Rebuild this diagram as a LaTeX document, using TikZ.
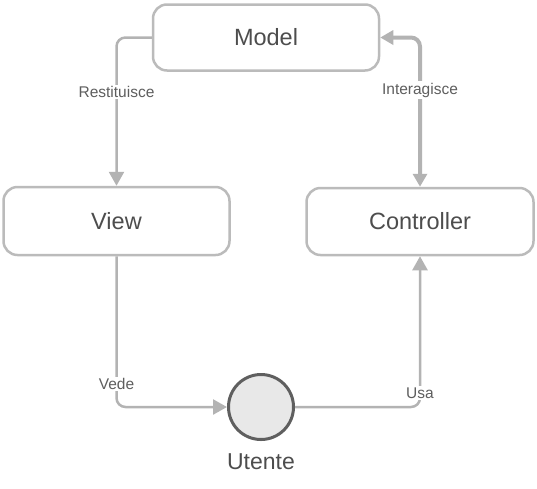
\documentclass[tikz,border=0pt]{standalone}
\usepackage{fontspec}
\setmainfont{Liberation Sans}
\usetikzlibrary{arrows.meta}
\definecolor{linegray}{HTML}{B3B3B3}
\definecolor{boxgray}{HTML}{BBBBBB}
\definecolor{txtgray}{HTML}{4D4D4D}
\definecolor{lbltxt}{HTML}{5E5E5E}
\definecolor{circfill}{HTML}{E8E8E8}
\definecolor{circline}{HTML}{5F5F5F}
\tikzset{
  boxnode/.style={draw=boxgray, line width=2.5pt, rounded corners=14pt, fill=white,
    minimum width=226pt, minimum height=66pt, text=txtgray, inner sep=0pt,
    font=\fontsize{23.5}{28}\selectfont},
  conn/.style={draw=linegray, line width=2.5pt, rounded corners=9pt,
    -{Triangle[length=14pt,width=15pt]}},
  lbl/.style={fill=white, text=lbltxt, inner sep=1.5pt, font=\fontsize{15.5}{18}\selectfont},
  usercirc/.style={circle, draw=circline, line width=3pt, fill=circfill, minimum size=65pt, inner sep=0pt}
}
\begin{document}
\begin{tikzpicture}[x=1pt,y=-1pt]
\useasboundingbox (0,0) rectangle (537,488);
\node[boxnode] (model) at (266,37.5) {Model};
\node[boxnode, minimum height=68pt] (view) at (116.5,221) {View};
\node[boxnode, minimum width=227pt, minimum height=67pt] (ctrl) at (420,221.5) {Controller};
\node[usercirc] (utente) at (261,407) {};
\node[text=txtgray, font=\fontsize{23}{28}\selectfont] (utlbl) at (261,462) {Utente};

\draw[conn] (model.west) -| (view.north);
\draw[conn, line width=4pt, {Triangle[length=13pt,width=14pt]}-{Triangle[length=13pt,width=14pt]}] (ctrl.north) |- (model.east);
\draw[conn] (view.south) |- (utente.west);
\draw[conn] (utente.east) -| (ctrl.south);

\node[lbl] (l1) at (116.5,92) {Restituisce};
\node[lbl] (l2) at (420,90) {Interagisce};
\node[lbl] (l3) at (116.5,384) {Vede};
\node[lbl] (l4) at (420,393) {Usa};
\end{tikzpicture}
\end{document}
